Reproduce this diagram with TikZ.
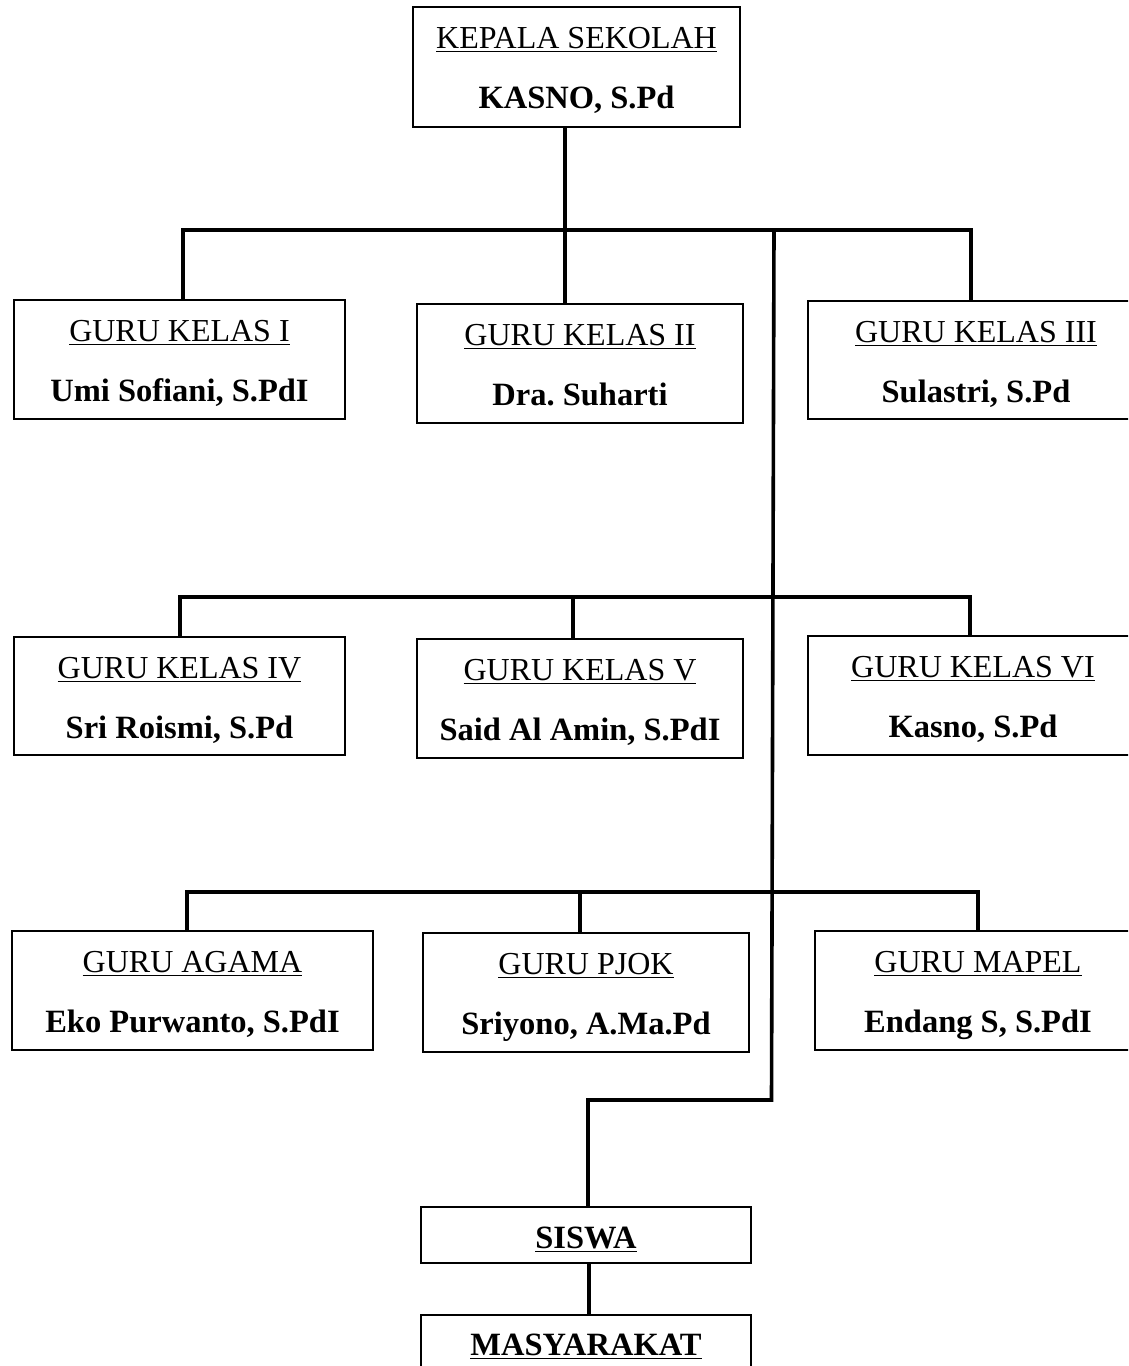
\documentclass[tikz,border=0pt]{standalone}
\usepackage{fontspec}
\setmainfont{Liberation Serif}
\usetikzlibrary{calc}
\frenchspacing
\begin{document}
\begin{tikzpicture}[x=1pt,y=-1pt,
  box/.style={draw, line width=2pt, inner sep=0pt, outer sep=0pt},
  ttl/.style={anchor=base, inner sep=0pt, outer sep=0pt, font=\fontsize{32}{36}\selectfont},
  nm/.style={anchor=base, inner sep=0pt, outer sep=0pt, font=\fontsize{32.5}{36}\selectfont\bfseries},
  conn/.style={line width=3.6pt, line join=miter},
  ul/.style={line width=1.8pt}]
\path[use as bounding box] (0,0) rectangle (1128,1366);
\clip (0,0) rectangle (1128,1366);

% boxes
\node[box, minimum width=327pt, minimum height=120pt] (K)  at (576.5,67) {};
\node[box, minimum width=331pt, minimum height=119pt] (G1) at (179.5,359.5) {};
\node[box, minimum width=326pt, minimum height=119pt] (G2) at (580,363.5) {};
\node[box, minimum width=336pt, minimum height=118pt] (G3) at (976,360) {};
\node[box, minimum width=331pt, minimum height=118pt] (G4) at (179.5,696) {};
\node[box, minimum width=326pt, minimum height=119pt] (G5) at (580,698.5) {};
\node[box, minimum width=330pt, minimum height=119pt] (G6) at (973,695.5) {};
\node[box, minimum width=361pt, minimum height=119pt] (G7) at (192.5,990.5) {};
\node[box, minimum width=326pt, minimum height=119pt] (G8) at (586,992.5) {};
\node[box, minimum width=326pt, minimum height=119pt] (G9) at (978,990.5) {};
\node[box, minimum width=330pt, minimum height=56pt] (S)  at (586,1235) {};
\node[box, minimum width=330pt, minimum height=56pt] (M)  at (586,1343) {};

% texts
\foreach \b/\t/\n in {K/KEPALA SEKOLAH/{KASNO, S.Pd},
                      G1/GURU KELAS I/{Umi Sofiani, S.PdI},
                      G2/GURU KELAS II/{Dra. Suharti},
                      G3/GURU KELAS III/{Sulastri, S.Pd},
                      G4/GURU KELAS IV/{Sri Roismi, S.Pd},
                      G5/GURU KELAS V/{Said Al Amin, S.PdI},
                      G6/GURU KELAS VI/{Kasno, S.Pd},
                      G7/GURU AGAMA/{Eko Purwanto, S.PdI},
                      G8/GURU PJOK/{Sriyono, A.Ma.Pd},
                      G9/GURU MAPEL/{Endang S, S.PdI}}{
  \node[ttl] (\b-t) at ($(\b.north)+(0,41)$) {\t};
  \node[nm]  (\b-n) at ($(\b.north)+(0,101)$) {\n};
  \draw[ul] ([yshift=-3.5pt]\b-t.base west) -- ([yshift=-3.5pt]\b-t.base east);
}
\node[nm] (S-t) at ($(S.north)+(0,41)$) {SISWA};
\draw[ul] ([yshift=-3.5pt]S-t.base west) -- ([yshift=-3.5pt]S-t.base east);
\node[nm] (M-t) at ($(M.north)+(0,40)$) {MASYARAKAT};
\draw[ul] ([yshift=-3.5pt]M-t.base west) -- ([yshift=-3.5pt]M-t.base east);

% junction coordinates
\coordinate (kd)  at (565,230);
\coordinate (r1a) at (183,230);
\coordinate (r1b) at (971,230);
\coordinate (r2a) at (180,597);
\coordinate (r2m) at (573,597);
\coordinate (r2b) at (970,597);
\coordinate (r3a) at (187,892);
\coordinate (r3m) at (580,892);
\coordinate (r3b) at (978,892);
\coordinate (m1)  at (774,230);
\coordinate (m2)  at (771.5,1100);
\coordinate (m3)  at (588,1100);
\coordinate (sm)  at (589,1263);

% connectors
\draw[conn] (kd |- K.south) -- (kd |- G2.north);
\draw[conn] (r1a |- G1.north) -- (r1a) -- (r1b) -- (r1b |- G3.north);
\draw[conn] (r2a |- G4.north) -- (r2a) -- (r2b) -- (r2b |- G6.north);
\draw[conn] (r2m) -- (r2m |- G5.north);
\draw[conn] (r3a |- G7.north) -- (r3a) -- (r3b) -- (r3b |- G9.north);
\draw[conn] (r3m) -- (r3m |- G8.north);
\draw[conn] (m1) -- (m2) -- (m3) -- (m3 |- S.north);
\draw[conn] (sm |- S.south) -- (sm |- M.north);
\end{tikzpicture}
\end{document}
